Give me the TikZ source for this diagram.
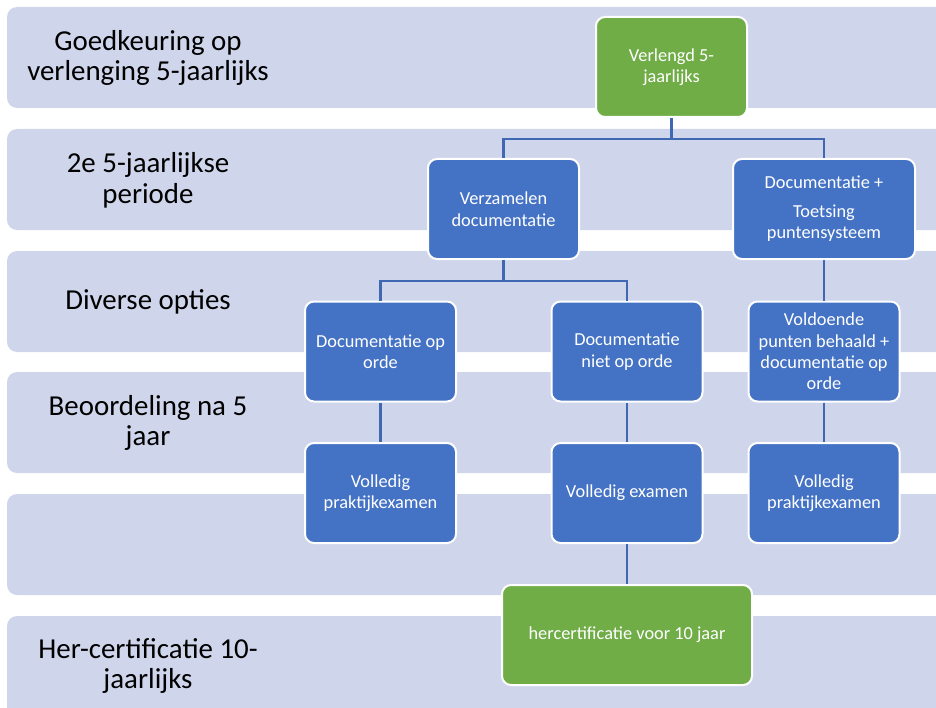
\documentclass[tikz,border=0pt]{standalone}
\usepackage{fontspec}
\setmainfont{Carlito}
\usepackage{xcolor}
\usetikzlibrary{positioning}

\definecolor{bandcol}{HTML}{CFD5EA}
\definecolor{boxblue}{HTML}{4472C4}
\definecolor{boxgreen}{HTML}{70AD47}
\definecolor{linkblue}{HTML}{4068B2}

\begin{document}
\begin{tikzpicture}[
    x=1bp, y=-1bp,
    band/.style={fill=bandcol, rounded corners=10bp},
    phase/.style={align=center, text=black, font=\fontsize{29}{31}\selectfont},
    box/.style={rectangle, draw=white, line width=2bp, rounded corners=9bp, fill=boxblue, text=white, minimum width=151bp, minimum height=100bp, inner sep=2bp, align=center, font=\fontsize{18.4}{21.5}\selectfont},
    link/.style={draw=linkblue, line width=2.5bp}
]

\useasboundingbox (0,0) rectangle (936,708);
\clip (0,0) rectangle (936,708);

% Bands
\foreach \y in {7,129,251,372,494,616}
    \fill[band] (7,\y) rectangle (960,\y+101);

% Phases
\node[phase] (goedkeuring) at (148,58) {Goedkeuring op\\verlenging 5-jaarlijks};
\node[phase] (periode) at (148,180) {2e 5-jaarlijkse\\periode};
\node[phase] (opties) at (148,302) {Diverse opties};
\node[phase] (beoordeling) at (148,423) {Beoordeling na 5\\jaar};
\node[phase] (hercertificatie) at (148,666) {Her-certificatie 10-\\jaarlijks};

% Top
\node[box, fill=boxgreen] (verlengd) at (671.5,67) {Verlengd 5-\\jaarlijks};

% 2e periode
\node[box] (verzamelen) at (503.5,209) {Verzamelen\\documentatie};
\node[box, minimum width=182bp] (toetsing) at (824,209) {Documentatie +\\[7bp]Toetsing\\puntensysteem};

% Opties
\node[box] (docok) at (380.5,351.5) {Documentatie op\\orde};
\node[box] (docniet) at (627,351.5) {Documentatie\\niet op orde};
\node[box] (voldoende) at (824,351.5) {Voldoende\\punten behaald +\\documentatie op\\orde};

% Beoordeling
\node[box] (praktijkA) at (380.5,493) {Volledig\\praktijkexamen};
\node[box] (examen) at (627,493) {Volledig examen};
\node[box] (praktijkB) at (824,493) {Volledig\\praktijkexamen};

% Hercertificatie
\node[box, fill=boxgreen, minimum width=250bp] (hercert) at (627,635) {hercertificatie voor 10 jaar};

% Connectors
\draw[link] (verlengd.south) -- ++(0,21) -| (verzamelen.north);
\draw[link] (verlengd.south) -- ++(0,21) -| (toetsing.north);
\draw[link] (verzamelen.south) -- ++(0,21) -| (docok.north);
\draw[link] (verzamelen.south) -- ++(0,21) -| (docniet.north);
\draw[link] (toetsing) -- (voldoende);
\draw[link] (docok) -- (praktijkA);
\draw[link] (docniet) -- (examen);
\draw[link] (voldoende) -- (praktijkB);
\draw[link] (examen) -- (hercert);

\end{tikzpicture}
\end{document}
